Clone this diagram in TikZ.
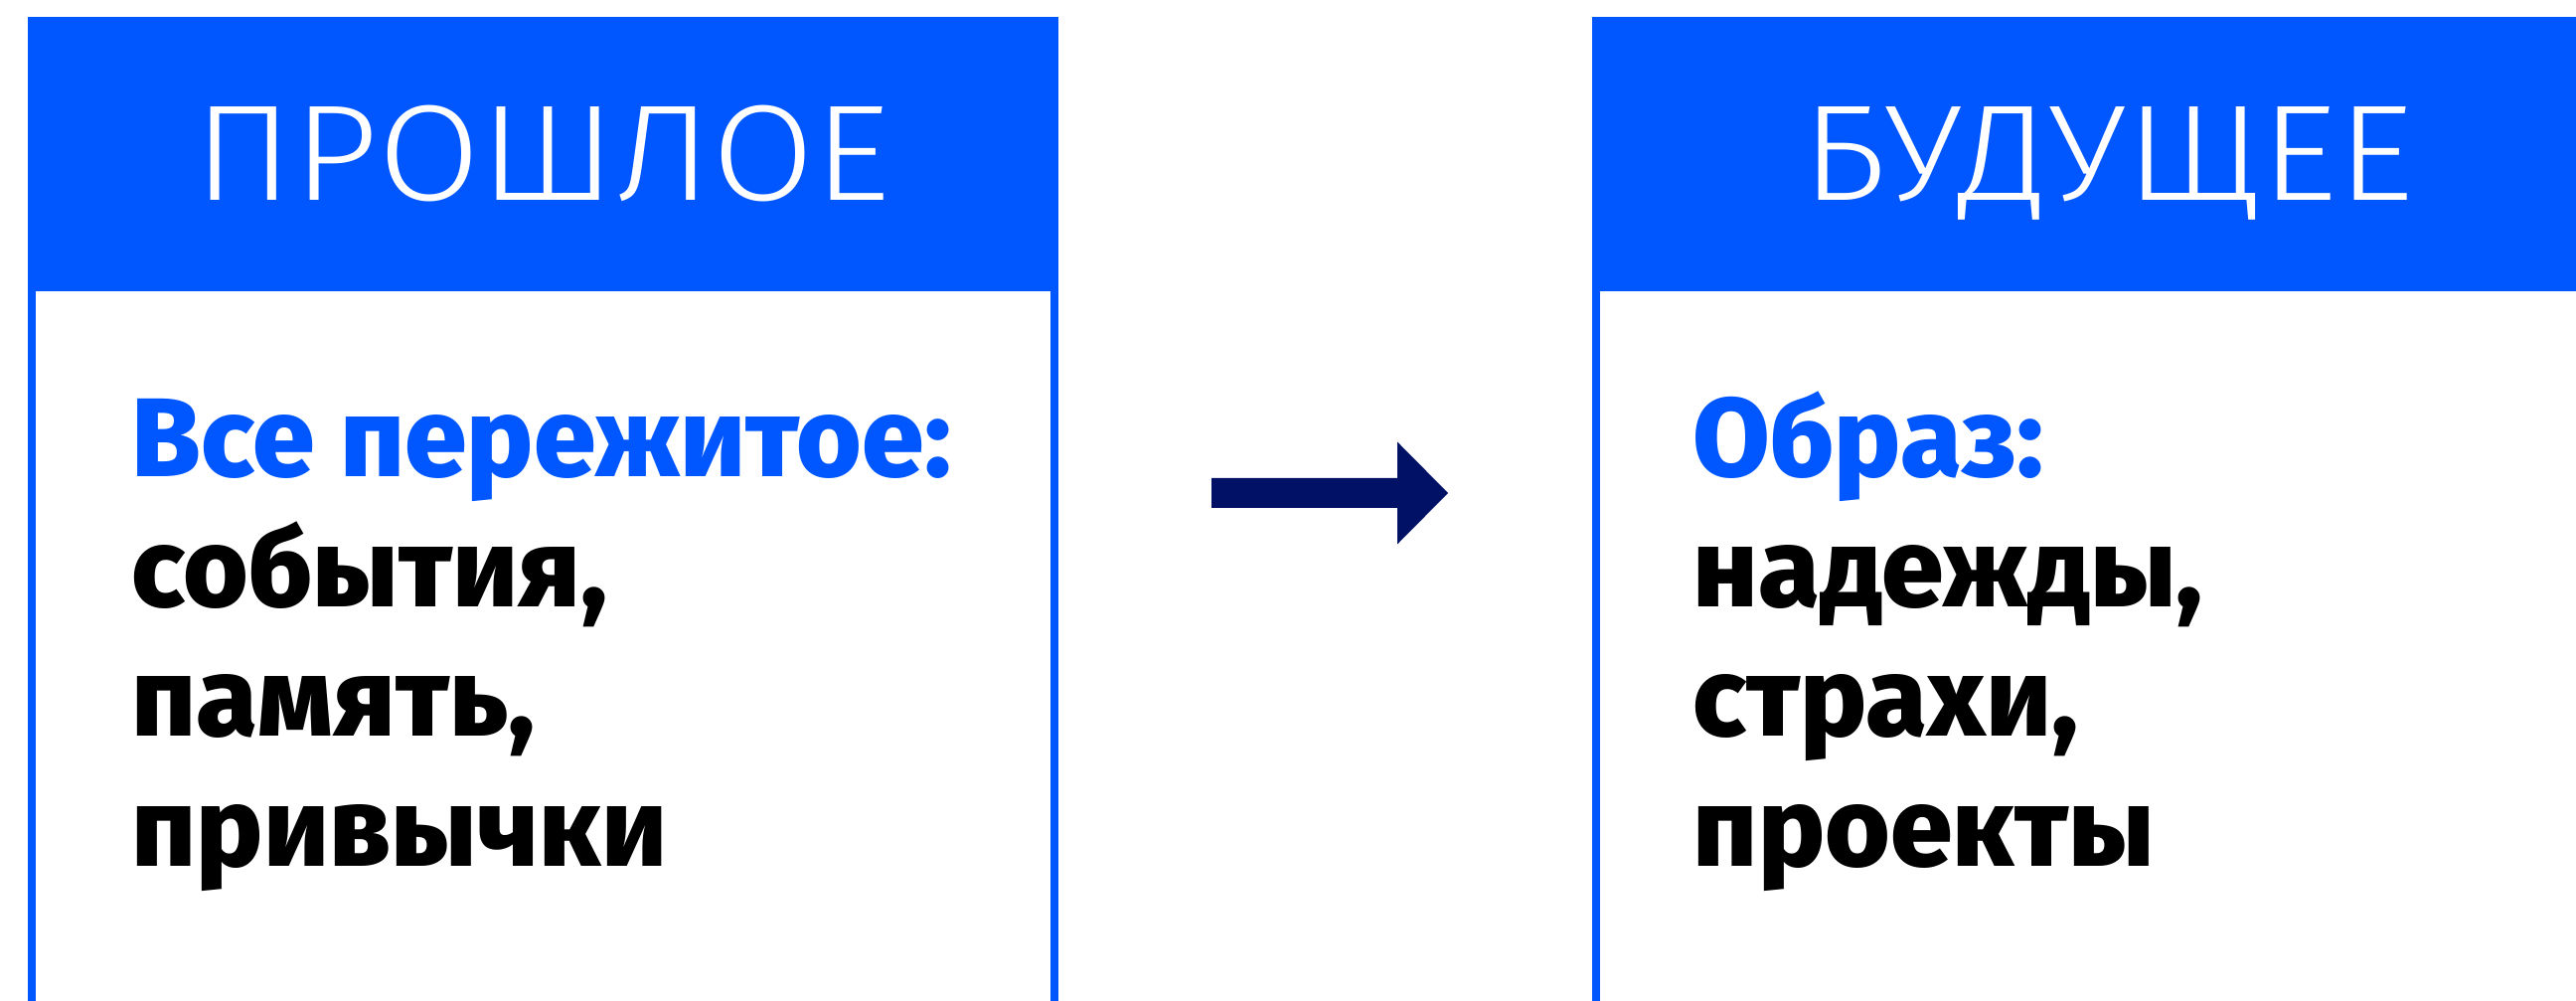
\documentclass[tikz,border=0pt]{standalone}
\usepackage{fontspec}
\setmainfont{Fira Sans}
\IfFontExistsTF{Fira Sans ExtraBold}{%
  \newfontfamily\bodyfont{Fira Sans ExtraBold}%
  \newcommand\bodyweight{}}{%
  \newfontfamily\bodyfont{Fira Sans}%
  \newcommand\bodyweight{\bfseries}}
\newfontfamily\titlefont{Fira Sans Light}[FakeStretch=1.09]
\definecolor{brandblue}{HTML}{0057FF}
\definecolor{arrownavy}{HTML}{001166}
\begin{document}
\begin{tikzpicture}[x=0.01cm,y=-0.01cm,
  boxframe/.style={draw=brandblue, line width=0.08cm, inner sep=0pt, outer sep=0pt, anchor=north west},
  headfill/.style={fill=brandblue, draw=none, inner sep=0pt, outer sep=0pt, anchor=north west},
  titletext/.style={text=white, font=\titlefont\fontsize{39}{39}\selectfont, anchor=base, inner sep=0pt},
  leadtext/.style={text=brandblue, font=\bodyfont\bodyweight\fontsize{32}{32}\selectfont, anchor=base west, inner sep=0pt},
  itemtext/.style={text=black, font=\bodyfont\bodyweight\fontsize{32}{32}\selectfont, anchor=base west, inner sep=0pt}]
\clip (0,0) rectangle (2592,1007);
% left box
\node (pastbox) [boxframe, minimum width=10.28cm, minimum height=11cm] at (32,21) {};
\node (pasthead) [headfill, minimum width=10.36cm, minimum height=2.76cm] at (28,17) {};
\node (pasttitle) [titletext] at (546,202) {ПРОШЛОЕ};
\node (pastlead) [leadtext] at (132,480) {Все пережитое:};
\node (past1) [itemtext] at (132,611) {события,};
\node (past2) [itemtext] at (132,741) {память,};
\node (past3) [itemtext] at (132,871) {привычки};
% right box
\node (futbox) [boxframe, minimum width=10.28cm, minimum height=11cm] at (1606,21) {};
\node (futhead) [headfill, minimum width=10.36cm, minimum height=2.76cm] at (1602,17) {};
\node (futtitle) [titletext] at (2121,202) {БУДУЩЕЕ};
\node (futlead) [leadtext] at (1703,480) {Образ:};
\node (fut1) [itemtext] at (1703,611) {надежды,};
\node (fut2) [itemtext] at (1703,741) {страхи,};
\node (fut3) [itemtext] at (1703,871) {проекты};
% arrow
\coordinate (arrtail) at (1219,496);
\coordinate (arrtip) at (1457,496);
\fill[arrownavy] (arrtail) ++(0,-15) -- ++(187,0) -- ++(0,-36.5) -- (arrtip) -- ++(-51,51.5) -- ++(0,-36.5) -- ++(-187,0) -- cycle;
\end{tikzpicture}
\end{document}
